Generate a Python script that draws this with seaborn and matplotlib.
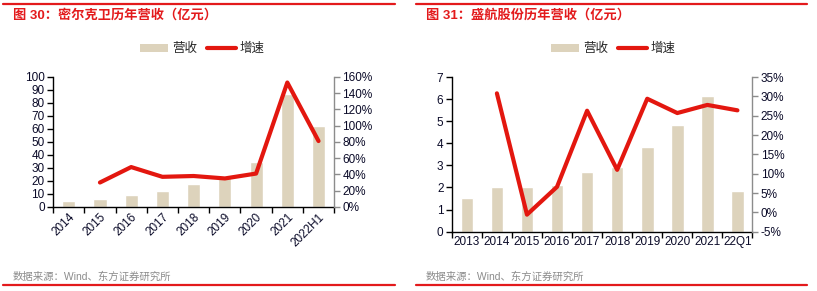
import numpy as np
import pandas as pd
import seaborn as sns
import matplotlib.pyplot as plt
from matplotlib.lines import Line2D
from matplotlib.patches import Patch
from matplotlib.ticker import FuncFormatter

sns.set_theme(style="white")
plt.rcParams['font.family'] = ['Liberation Sans', 'Noto Sans CJK SC', 'DejaVu Sans']

# 密尔克卫
mlk_years = ["2014", "2015", "2016", "2017", "2018", "2019", "2020", "2021", "2022H1"]
mlk_rev = [4.4, 6.2, 9.0, 12.6, 17.7, 23.4, 34.2, 86.5, 62.5]
mlk_growth = [np.nan, 30, 49, 37, 38, 35, 41, 153, 81]

# 盛航股份
sh_years = ["2013", "2014", "2015", "2016", "2017", "2018", "2019", "2020", "2021", "22Q1"]
sh_rev = [1.54, 2.03, 2.0, 2.12, 2.68, 2.95, 3.84, 4.81, 6.13, 1.82]
sh_growth = [np.nan, 30.8, -0.6, 6.6, 26.3, 11.0, 29.4, 25.7, 27.8, 26.4]

BAR_C = "#DDD3BC"
LINE_C = "#E3170F"
RED = "#E31A1C"
TICK_C = "#0A0A28"

fig = plt.figure(figsize=(8.17, 2.91), dpi=100)


def panel(rect, years, rev, growth, ylim, yticks, y2lim, y2ticks, rotate):
    ax = fig.add_axes(rect)
    df = pd.DataFrame({"year": years, "rev": rev})
    sns.barplot(data=df, x="year", y="rev", color=BAR_C, width=0.42, ax=ax,
                saturation=1)
    ax.set_xlabel("")
    ax.set_ylabel("")
    ax.set_ylim(*ylim)
    ax.set_yticks(yticks)
    ax.set_xlim(-0.5, len(years) - 0.5)
    for s in ["top", "right"]:
        ax.spines[s].set_visible(False)
    ax.spines["left"].set_color("black")
    ax.spines["bottom"].set_color("black")
    ax.spines["left"].set_linewidth(1)
    ax.spines["bottom"].set_linewidth(1)
    # ticks between categories
    ax.set_xticks(np.arange(len(years)))
    ax.set_xticks(np.arange(len(years) + 1) - 0.5, minor=True)
    ax.tick_params(axis="x", which="major", length=0, labelsize=8.5, colors=TICK_C, pad=3)
    ax.tick_params(axis="x", which="minor", length=4, width=1, color="black", direction="out", bottom=True)
    ax.tick_params(axis="y", length=4, width=1, color="black", direction="out", left=True,
                   labelsize=8.5, labelcolor=TICK_C, pad=2)
    if rotate:
        plt.setp(ax.get_xticklabels(), rotation=45, ha="right", rotation_mode="anchor")

    ax2 = ax.twinx()
    sns.lineplot(x=np.arange(len(years)), y=growth, color=LINE_C, linewidth=3, ax=ax2)
    ax2.set_ylim(*y2lim)
    ax2.set_yticks(y2ticks)
    ax2.yaxis.set_major_formatter(FuncFormatter(lambda v, p: f"{v:.0f}%"))
    for s in ["top", "left", "bottom"]:
        ax2.spines[s].set_visible(False)
    ax2.spines["right"].set_color("#8C8C8C")
    ax2.spines["right"].set_linewidth(1)
    ax2.tick_params(axis="y", length=4, width=1, color="#8C8C8C", direction="out", right=True,
                    labelsize=8.5, labelcolor=TICK_C, pad=2)
    ax2.grid(False)
    ax.grid(False)
    return ax, ax2


panel([0.065, 0.289, 0.344, 0.447], mlk_years, mlk_rev, mlk_growth,
      (0, 100), range(0, 101, 10), (0, 160), range(0, 161, 20), True)
panel([0.553, 0.204, 0.368, 0.531], sh_years, sh_rev, sh_growth,
      (0, 7), range(0, 8), (-5, 35), range(-5, 36, 5), False)

# 标题、图例、来源与红线
for x0, x1, title, lx in [(3, 395, "图 30：密尔克卫历年营收（亿元）", 202),
                           (416, 807, "图 31：盛航股份历年营收（亿元）", 613)]:
    fig.add_artist(Line2D([x0 / 817, x1 / 817], [1 - 4 / 291] * 2, color=RED, lw=1.6))
    fig.add_artist(Line2D([x0 / 817, x1 / 817], [1 - 285 / 291] * 2, color=RED, lw=1.6))
    fig.text((x0 + 10) / 817, 1 - 15 / 291, title, color=RED, fontsize=9.5,
             fontweight="bold", va="center", ha="left")
    fig.text((x0 + 10) / 817, 1 - 277 / 291, "数据来源：Wind、东方证券研究所", color="#8C8C8C",
             fontsize=7.5, va="center", ha="left")
    handles = [Patch(facecolor=BAR_C, edgecolor="none"), Line2D([], [], color=LINE_C, lw=3)]
    fig.legend(handles, ["营收", "增速"], loc="center", bbox_to_anchor=(lx / 817, 1 - 49 / 291),
               ncol=2, frameon=False, fontsize=9, handlelength=2.3, handletextpad=0.3,
               columnspacing=0.8, handleheight=0.6)

fig.savefig("out.png", dpi=100)
